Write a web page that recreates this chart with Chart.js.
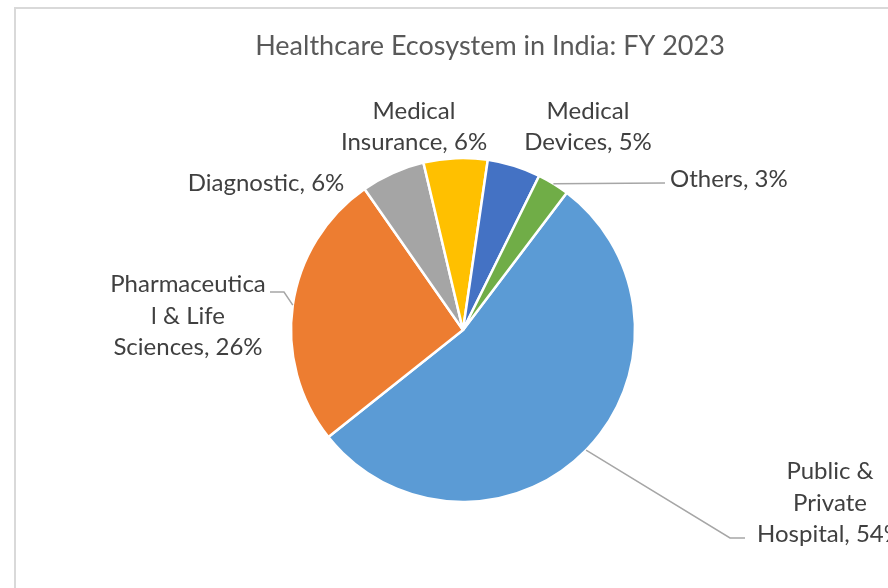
<!DOCTYPE html>
<html>
<head>
<meta charset="utf-8">
<script src="https://cdn.jsdelivr.net/npm/chart.js@4.4.0/dist/chart.umd.min.js"></script>
<style>
  html, body { margin: 0; padding: 0; background: #fff; overflow: hidden; }
  #frame { position: absolute; left: 14px; top: 7px; width: 1000px; height: 1000px; border: 2px solid #d9d9d9; box-sizing: border-box; }
  #wrap { position: absolute; left: 0; top: 0; width: 888px; height: 588px; }
</style>
</head>
<body>
<div id="frame"></div>
<div id="wrap"><canvas id="pieChart" width="888" height="588"></canvas></div>
<script>
// Healthcare ecosystem shares, FY 2023
const categories = ['Public & Private Hospital', 'Pharmaceutical & Life Sciences', 'Diagnostic', 'Medical Insurance', 'Medical Devices', 'Others'];
const shares = [54, 26, 6, 6, 5, 3];
const sliceColors = ['#5B9BD5', '#ED7D31', '#A5A5A5', '#FFC000', '#4472C4', '#70AD47'];
// label text as Excel wrapped it
const labelLines = [
    ['Public &', 'Private', 'Hospital, 54%'],
    ['Pharmaceutica', 'l & Life', 'Sciences, 26%'],
    ['Diagnostic, 6%'],
    ['Medical', 'Insurance, 6%'],
    ['Medical', 'Devices, 5%'],
    ['Others, 3%']
];

// where each label sits, and whether it gets a leader line
const labelPlaces = [
    { x: 830, y: 503, align: 'center', leader: [[730, 538], [745, 538]] },
    { x: 188, y: 316, align: 'center', leader: [[284, 292], [270, 292]] },
    { x: 266, y: 183, align: 'center' },
    { x: 414, y: 127, align: 'center' },
    { x: 588, y: 127, align: 'center' },
    { x: 670, y: 179, align: 'left', leader: [[665, 183]] }
];

const pieLabels = {
    id: 'pieLabels',
    afterDraw(chart) {
        const ctx = chart.ctx;
        const arcs = chart.getDatasetMeta(0).data;
        ctx.save();
        // leader lines
        ctx.strokeStyle = '#a6a6a6';
        ctx.lineWidth = 1.5;
        arcs.forEach((arc, i) => {
            const place = labelPlaces[i];
            if (!place.leader) return;
            const mid = (arc.startAngle + arc.endAngle) / 2;
            ctx.beginPath();
            ctx.moveTo(arc.x + Math.cos(mid) * arc.outerRadius, arc.y + Math.sin(mid) * arc.outerRadius);
            place.leader.forEach(p => ctx.lineTo(p[0], p[1]));
            ctx.stroke();
        });
        // label text
        ctx.fillStyle = '#404040';
        ctx.font = '24px Lato';
        ctx.textBaseline = 'middle';
        labelLines.forEach((lines, i) => {
            const place = labelPlaces[i];
            ctx.textAlign = place.align;
            const lh = 31.5;
            const top = place.y - (lines.length - 1) * lh / 2;
            lines.forEach((t, k) => ctx.fillText(t, place.x, top + k * lh));
        });
        // title
        ctx.fillStyle = '#595959';
        ctx.font = '27px Lato';
        ctx.textAlign = 'center';
        ctx.fillText('Healthcare Ecosystem in India: FY 2023', 490, 46);
        ctx.restore();
    }
};

const ctx = document.getElementById('pieChart').getContext('2d');
const pieChart = new Chart(ctx, {
    type: 'pie',
    data: {
        labels: categories,
        datasets: [{
            data: shares,
            backgroundColor: sliceColors,
            borderColor: '#ffffff',
            borderWidth: 2.5
        }]
    },
    options: {
        responsive: false,
        animation: false,
        rotation: 37.1,
        radius: 172,
        layout: { padding: { left: 38, right: 0, top: 72, bottom: 0 } },
        plugins: {
            legend: { display: false },
            title: { display: false },
            tooltip: { enabled: false }
        }
    },
    plugins: [pieLabels]
});
</script>
</body>
</html>
